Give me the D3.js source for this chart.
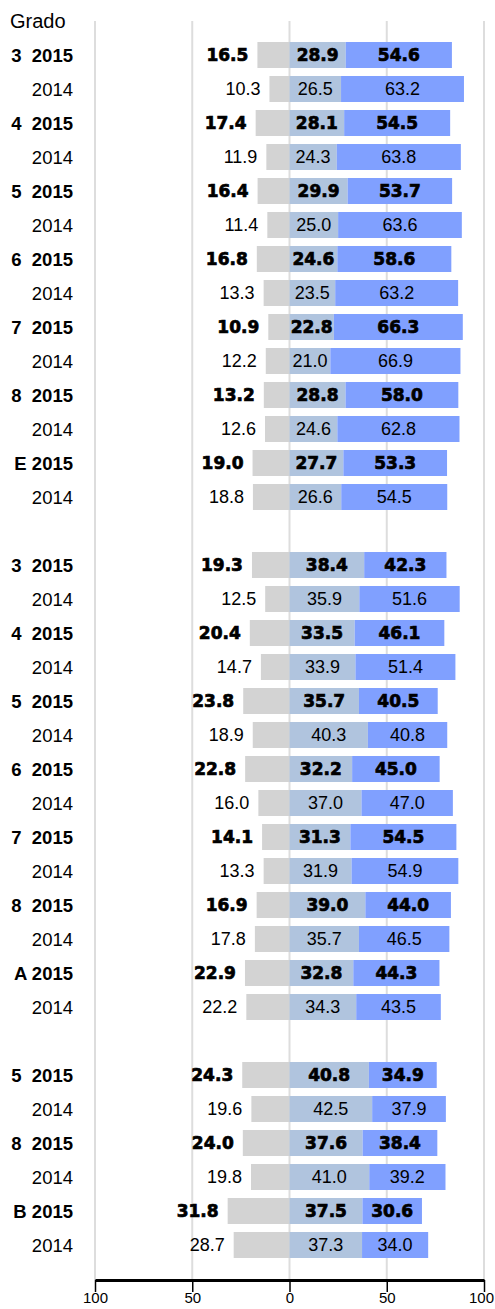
<!DOCTYPE html>
<html>
<head>
<meta charset="utf-8">
<script src="https://cdn.jsdelivr.net/npm/d3@7"></script>
<style>
  body { margin: 0; background: #fff; }
  text { font-family: "Liberation Sans", Arial, sans-serif; }
</style>
</head>
<body>
<div id="chart"></div>
<script>
// one entry per row; null rows are the blank gaps between blocks
const grades = ["3","3","4","4","5","5","6","6","7","7","8","8","E","E",
  null,
  "3","3","4","4","5","5","6","6","7","7","8","8","A","A",
  null,
  "5","5","8","8","B","B"];
const years = ["2015","2014","2015","2014","2015","2014","2015","2014","2015","2014","2015","2014","2015","2014",
  null,
  "2015","2014","2015","2014","2015","2014","2015","2014","2015","2014","2015","2014","2015","2014",
  null,
  "2015","2014","2015","2014","2015","2014"];
const lowVals = [16.5,10.3,17.4,11.9,16.4,11.4,16.8,13.3,10.9,12.2,13.2,12.6,19.0,18.8,
  null,
  19.3,12.5,20.4,14.7,23.8,18.9,22.8,16.0,14.1,13.3,16.9,17.8,22.9,22.2,
  null,
  24.3,19.6,24.0,19.8,31.8,28.7];
const midVals = [28.9,26.5,28.1,24.3,29.9,25.0,24.6,23.5,22.8,21.0,28.8,24.6,27.7,26.6,
  null,
  38.4,35.9,33.5,33.9,35.7,40.3,32.2,37.0,31.3,31.9,39.0,35.7,32.8,34.3,
  null,
  40.8,42.5,37.6,41.0,37.5,37.3];
const highVals = [54.6,63.2,54.5,63.8,53.7,63.6,58.6,63.2,66.3,66.9,58.0,62.8,53.3,54.5,
  null,
  42.3,51.6,46.1,51.4,40.5,40.8,45.0,47.0,54.5,54.9,44.0,46.5,44.3,43.5,
  null,
  34.9,37.9,38.4,39.2,30.6,34.0];
const ticks = [-100, -50, 0, 50, 100];

const W = 495, H = 1309;
const svg = d3.select("#chart").append("svg").attr("width", W).attr("height", H);

const rows = grades.map((g, i) => ({
  key: "r" + i, grade: g, year: years[i],
  low: lowVals[i], mid: midVals[i], high: highVals[i]
}));
const data = rows.filter(d => d.grade !== null);

const x = d3.scaleLinear().domain([-100, 100]).range([95, 484]);
const y = d3.scaleBand().domain(rows.map(d => d.key))
  .range([38, 38 + rows.length * 34]).paddingInner(0.235).paddingOuter(0.1175);
const axisY = 1280;

// grid
svg.selectAll("line.grid").data(ticks).enter().append("line")
  .attr("x1", d => x(d)).attr("x2", d => x(d))
  .attr("y1", 21).attr("y2", axisY)
  .attr("stroke", "#dddddd").attr("stroke-width", 2);

svg.append("text").attr("x", 10).attr("y", 28)
  .attr("font-size", 20).text("Grado");

const row = svg.selectAll("g.row").data(data).enter().append("g")
  .attr("transform", d => `translate(0,${y(d.key)})`);
const bw = y.bandwidth();

row.append("rect").attr("x", d => x(-d.low)).attr("width", d => x(0) - x(-d.low))
  .attr("height", bw).attr("fill", "#d3d3d3");
row.append("rect").attr("x", x(0)).attr("width", d => x(d.mid) - x(0))
  .attr("height", bw).attr("fill", "#b0c4de");
row.append("rect").attr("x", d => x(d.mid)).attr("width", d => x(d.mid + d.high) - x(d.mid))
  .attr("height", bw).attr("fill", "#80a0ff");

const bold = d => d.year === "2015";
function valText(sel) {
  sel.attr("y", bw / 2).attr("dy", "0.36em").attr("fill", "#000")
    .style("font-family", d => bold(d) ? "'DejaVu Sans', sans-serif" : null)
    .attr("font-weight", d => bold(d) ? "bold" : "normal")
    .attr("font-size", d => bold(d) ? 17 : 18)
    .attr("stroke", d => bold(d) ? "#000" : null)
    .attr("stroke-width", d => bold(d) ? 0.7 : null);
}
row.append("text").call(valText)
  .attr("x", d => x(-d.low) - 9).attr("text-anchor", "end")
  .text(d => d.low.toFixed(1));
row.append("text").call(valText)
  .attr("x", d => x(d.mid / 2)).attr("text-anchor", "middle")
  .text(d => d.mid.toFixed(1));
row.append("text").call(valText)
  .attr("x", d => x(d.mid + d.high / 2)).attr("text-anchor", "middle")
  .text(d => d.high.toFixed(1));

// row labels
row.append("text").attr("x", 73).attr("y", bw / 2).attr("dy", "0.36em")
  .attr("text-anchor", "end").attr("font-size", 18.5)
  .attr("font-weight", d => bold(d) ? "bold" : "normal")
  .style("white-space", "pre")
  .text(d => bold(d) ? (d.grade.match(/\d/) ? d.grade + "  " : d.grade + " ") + d.year : d.year);

// axis
const axis = svg.append("g").attr("transform", `translate(0,${axisY})`)
  .call(d3.axisBottom(x).tickValues(ticks).tickSize(12).tickSizeOuter(0).tickPadding(0)
    .tickFormat(d => Math.abs(d)));
axis.select(".domain").attr("stroke", "#000").attr("stroke-width", 3);
axis.selectAll(".tick line").attr("stroke", "#000").attr("stroke-width", 1.5);
axis.selectAll(".tick text").attr("font-size", 15).attr("y", 12)
  .attr("dx", d => d === 100 ? -3 : 0)
  .style("font-family", "'Liberation Sans', Arial, sans-serif").attr("fill", "#000");
</script>
</body>
</html>
